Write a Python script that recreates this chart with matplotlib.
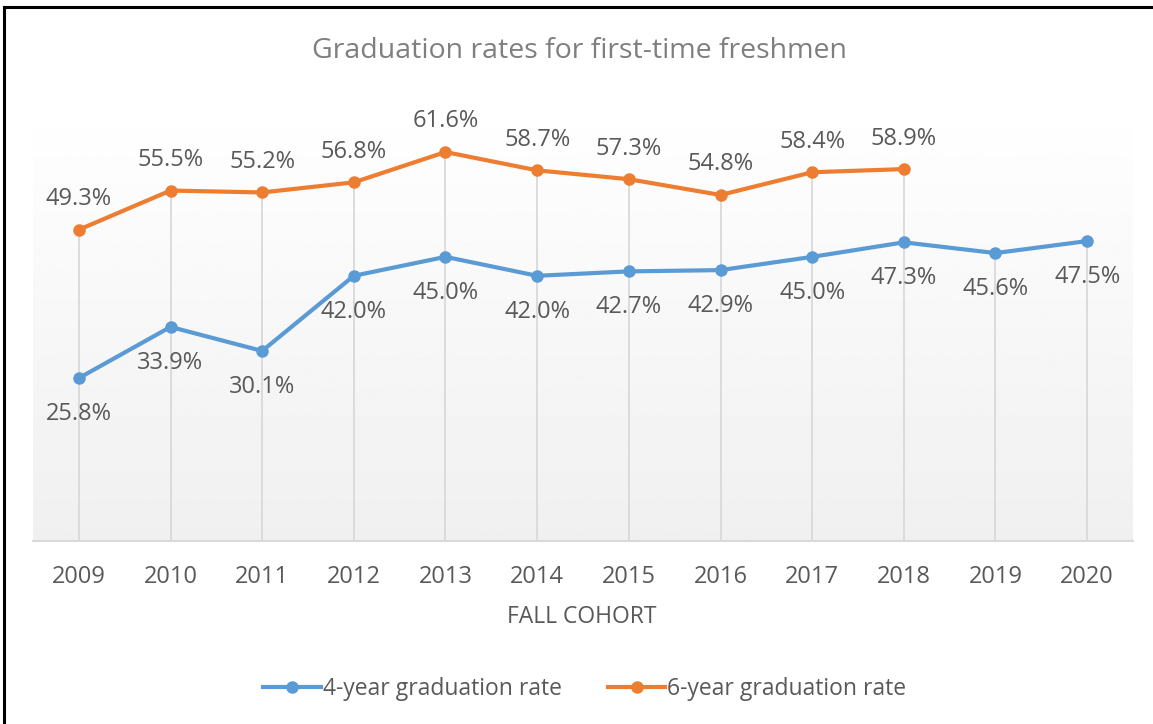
import numpy as np
import matplotlib
matplotlib.use("Agg")
import matplotlib.pyplot as plt
from matplotlib.lines import Line2D

plt.rcParams['font.family'] = ['Open Sans', 'DejaVu Sans']

# Dane
years = ['2009', '2010', '2011', '2012', '2013', '2014', '2015', '2016',
         '2017', '2018', '2019', '2020']
rate_4yr = [25.8, 33.9, 30.1, 42.0, 45.0, 42.0, 42.7, 42.9, 45.0, 47.3, 45.6, 47.5]
rate_6yr = [49.3, 55.5, 55.2, 56.8, 61.6, 58.7, 57.3, 54.8, 58.4, 58.9]

blue = '#5b9bd5'
orange = '#ed7d31'
text_col = '#595959'

fig = plt.figure(figsize=(11.53, 7.24), dpi=100)
ax = fig.add_axes([33 / 1153, 1 - 541 / 724, 1100 / 1153, 442 / 724])

x = np.arange(len(years))
x6 = np.arange(len(rate_6yr))

# tlo z gradientem
grad = np.linspace(1.0, 0.94, 256).reshape(-1, 1)
ax.imshow(grad, cmap='gray', vmin=0, vmax=1, aspect='auto',
          extent=[-0.5, len(years) - 0.5, 0, 70], zorder=0)

# linie pionowe od punktu do osi
tops = [max(rate_4yr[i], rate_6yr[i]) if i < len(rate_6yr) else rate_4yr[i] for i in x]
ax.vlines(x, 0, tops, color='#d9d9d9', lw=1.3, zorder=1)

ax.plot(x, rate_4yr, color=blue, lw=3, marker='o', ms=8, zorder=3,
        solid_capstyle='round')
ax.plot(x6, rate_6yr, color=orange, lw=3, marker='o', ms=8, zorder=3,
        solid_capstyle='round')

for i, v in enumerate(rate_4yr):
    ax.annotate(f'{v:.1f}%', (i, v), xytext=(0, -26), textcoords='offset points',
                ha='center', va='center', fontsize=17, color=text_col)
for i, v in enumerate(rate_6yr):
    ax.annotate(f'{v:.1f}%', (i, v), xytext=(0, 22), textcoords='offset points',
                ha='center', va='center', fontsize=17, color=text_col)

ax.set_xlim(-0.5, len(years) - 0.5)
ax.set_ylim(0, 70)
ax.set_xticks(x)
ax.set_xticklabels(years, fontsize=17, color=text_col)
ax.set_yticks([])
ax.tick_params(axis='x', length=0, pad=17)
for s in ['top', 'left', 'right']:
    ax.spines[s].set_visible(False)
ax.spines['bottom'].set_color('#d9d9d9')
ax.spines['bottom'].set_linewidth(1.5)

fig.text(582 / 1153, 1 - 617 / 724, 'FALL COHORT', ha='center', va='center',
         fontsize=16.5, color=text_col)
fig.text(580 / 1153, 1 - 51 / 724, 'Graduation rates for first-time freshmen',
         ha='center', va='center', fontsize=20.5, color='#7f7f7f')

handles = [Line2D([], [], color=blue, lw=3, marker='o', ms=8),
           Line2D([], [], color=orange, lw=3, marker='o', ms=8)]
fig.legend(handles, ['4-year graduation rate', '6-year graduation rate'],
           loc='center', bbox_to_anchor=(585 / 1153, 1 - 689 / 724), ncol=2,
           frameon=False, fontsize=16.5, labelcolor=text_col, handlelength=2.5,
           handletextpad=0.1, columnspacing=2.0)

# ramka
fig.add_artist(Line2D([4 / 1153, 1], [1 - 7 / 724, 1 - 7 / 724], color='black', lw=2.2,
                      transform=fig.transFigure))
fig.add_artist(Line2D([4 / 1153, 4 / 1153], [0, 1 - 7 / 724], color='black', lw=2.2,
                      transform=fig.transFigure))

fig.savefig('out.png', dpi=100)
